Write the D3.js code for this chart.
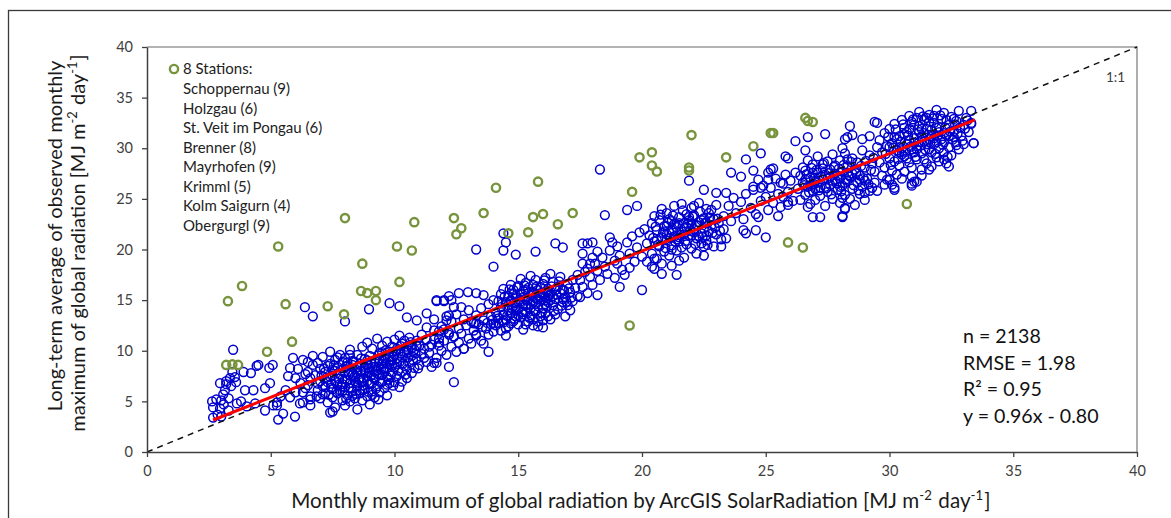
<!DOCTYPE html>
<html><head><meta charset="utf-8">
<script src="https://cdn.jsdelivr.net/npm/d3@7"></script>
<style>body{margin:0;background:#fff}svg{display:block}text{font-family:Lato,"Open Sans",sans-serif}</style>
</head><body><svg id="c" width="1171" height="518"></svg>
<script>
// ---------- data ----------
const xTicks=[0,5,10,15,20,25,30,35,40];
const yTicks=[0,5,10,15,20,25,30,35,40];
const legendTitle="8 Stations:";
const stations=["Schoppernau (9)","Holzgau (6)","St. Veit im Pongau (6)","Brenner (8)","Mayrhofen (9)","Krimml (5)","Kolm Saigurn (4)","Obergurgl (9)"];
const statsLines=["n = 2138","RMSE = 1.98","R\u00b2 = 0.95","y = 0.96x - 0.80"];
const fitLine=[[2.67,3.16],[33.45,32.8]];
const oneToOne=[[0,0],[40,40]];

const greenStations=[[3.27,14.9],[3.84,16.4],[3.2,8.6],[3.45,8.65],[3.68,8.6],[4.85,9.9],[5.3,20.3],[5.6,14.6],[5.86,10.9],[7.3,14.4],[8.0,23.1],[7.96,13.6],[8.7,18.6],[8.65,15.9],[8.9,15.7],[9.25,15.9],[9.25,15.0],[10.1,20.3],[10.7,19.9],[10.2,16.8],[10.8,22.7],[12.4,23.1],[12.7,22.1],[12.5,21.5],[13.6,23.6],[14.1,26.1],[14.6,21.6],[15.4,21.7],[15.6,23.2],[16.0,23.5],[15.8,26.7],[16.6,22.5],[17.2,23.6],[19.5,12.5],[19.6,25.7],[19.9,29.1],[20.4,29.6],[20.4,28.3],[20.6,27.7],[21.9,28.1],[21.9,27.8],[22.0,31.3],[23.4,29.1],[24.5,30.2],[25.2,31.5],[25.3,31.5],[25.9,20.7],[26.5,20.2],[26.6,33.0],[26.7,32.7],[26.9,32.6],[30.7,24.5]];

const blueLow=[[2.63,5.0],[2.67,4.4],[2.67,3.4],[2.85,3.7],[2.95,4.3],[3.0,5.1],[3.08,5.7],[3.15,6.1],[3.2,6.7],[2.95,6.8],[3.48,10.1],[3.35,7.3],[3.55,7.4],[3.9,7.9],[4.2,7.8],[4.43,8.5],[4.5,8.6],[3.96,6.1],[4.3,6.1],[3.63,4.8],[3.8,5.0],[4.03,4.5],[4.37,4.8],[4.77,4.1],[4.77,6.3],[4.97,6.8],[5.08,8.6],[4.94,8.3],[5.25,4.9],[5.3,3.2],[5.5,3.8],[5.98,3.5],[5.78,8.3],[5.9,9.3],[5.78,5.4],[6.18,4.8],[5.1,4.6],[5.25,4.6],[3.1,4.7],[3.3,5.3],[3.4,6.5],[3.3,4.1],[2.8,5.2],[3.0,3.5],[3.2,7.0],[3.45,7.9],[3.6,6.9],[5.4,5.5],[5.6,6.1],[5.7,7.5],[6.0,7.3],[6.3,4.9],[6.4,6.3],[6.5,7.9],[6.6,4.6],[6.7,8.6],[6.3,5.9],[6.4,7.7],[6.5,6.6],[6.5,8.9],[6.6,5.2],[6.6,7.3],[6.7,9.5],[6.1,8.2],[6.2,6.8],[6.0,5.9],[6.3,9.1],[6.6,5.5]];

const blueA=[[6.8,7.6],[6.9,6.1],[6.9,8.8],[7.0,5.3],[7.0,7.0],[7.1,9.4],[7.1,6.5],[7.2,7.9],[7.2,5.8],[7.3,8.5],[7.3,4.9],[7.3,6.9],[7.4,7.4],[7.4,9.9],[7.5,6.2],[7.5,8.1],[7.5,5.4],[7.6,7.0],[7.6,9.1],[7.6,4.4],[7.7,6.6],[7.7,8.4],[7.7,5.8],[7.8,7.7],[7.8,9.6],[7.8,6.1],[7.9,5.1],[7.9,7.2],[7.9,8.9],
[8.0,6.4],[8.0,7.9],[8.0,4.6],[8.0,9.3],[8.1,5.6],[8.1,7.1],[8.1,8.5],[8.2,6.8],[8.2,10.1],[8.2,5.0],[8.3,7.6],[8.3,9.0],[8.3,6.0],[8.4,8.2],[8.4,5.3],[8.4,7.0],[8.5,9.6],[8.5,6.5],[8.5,7.8],[8.5,4.2],[8.6,8.7],[8.6,5.8],[8.6,7.3],[8.7,10.4],[8.7,6.9],[8.7,5.1],[8.8,8.0],[8.8,9.2],[8.8,6.2],[8.9,7.5],[8.9,5.5],[8.9,10.8],[8.9,8.6],
[9.0,6.7],[9.0,9.5],[9.0,7.9],[9.0,4.7],[9.1,8.4],[9.1,6.0],[9.1,10.2],[9.2,7.2],[9.2,9.0],[9.2,5.4],[9.3,8.1],[9.3,6.5],[9.3,11.2],[9.4,9.8],[9.4,7.6],[9.4,5.9],[9.5,8.7],[9.5,10.5],[9.5,7.0],[9.6,6.3],[9.6,9.3],[9.6,8.0],[9.7,10.9],[9.7,7.4],[9.7,5.6],[9.8,8.6],[9.8,9.9],[9.8,6.8],[9.9,7.9],[9.9,10.4],[9.9,9.1],
[10.0,8.4],[10.0,11.1],[10.0,6.9],[10.0,9.6],[10.1,7.5],[10.1,10.2],[10.2,8.9],[10.2,11.5],[10.2,6.4],[10.3,9.4],[10.3,7.9],[10.3,10.7],[10.4,8.5],[10.4,11.0],[10.5,9.8],[10.5,7.3],[10.5,10.4],[10.6,8.8],[10.6,11.3],[10.7,9.5],[10.7,7.8],[10.8,10.1],[10.8,8.3],[10.9,11.0],[10.9,9.2],[11.0,10.5],[11.0,8.6],[11.1,9.7],[11.1,11.6],[11.2,10.2],[11.3,8.9],[11.3,11.1],[11.4,9.8],[11.5,10.6],[11.6,12.0],[11.7,9.3],[11.8,11.2],[11.9,10.0],
[7.2,6.4],[7.6,8.0],[8.0,7.2],[8.3,8.6],[8.6,6.1],[8.9,7.0],[9.2,8.4],[9.5,7.6],[9.8,9.4],[10.1,8.7],[8.4,7.5],[8.8,8.4],[9.1,6.8],[9.4,9.1],[7.9,6.7],[8.2,9.6],[9.7,8.3],[10.4,9.9],[7.4,8.7],[10.7,10.6]];

const blueAcore=[[7.25,7.35],[7.45,6.75],[7.55,8.55],[7.65,5.95],[7.85,6.45],[7.95,8.25],[8.05,5.25],[8.15,7.65],[8.25,6.25],[8.35,8.95],[8.45,5.75],[8.55,7.15],[8.65,9.25],[8.75,6.55],[8.85,7.85],[8.95,5.95],[9.05,8.75],[9.15,7.35],[9.25,6.25],[9.35,9.55],[9.45,6.85],[9.55,8.25],[9.65,10.05],[9.75,7.15],[9.85,8.95],[9.95,6.55],[10.05,9.95],[10.15,8.05],[10.25,10.45],[10.35,8.75],[10.45,7.65],[10.55,9.35],[10.65,10.85],[10.75,9.05],[10.85,9.75],[10.95,8.25],
[7.15,8.25],[7.35,5.65],[7.5,7.55],[7.7,9.35],[7.9,6.05],[8.1,8.85],[8.3,5.55],[8.5,8.35],[8.7,6.15],[8.9,9.05],[9.1,5.65],[9.3,7.75],[9.5,9.85],[9.7,6.65],[9.9,8.55],[10.1,9.25],[10.3,6.95],[10.5,8.15],[10.7,10.25],[10.9,10.45],
[8.15,6.35],[8.45,6.85],[8.75,7.25],[9.05,7.55],[9.35,8.45],[9.65,8.75],[9.95,9.45],[8.35,7.35],[8.65,8.05],[8.95,8.25],[9.25,7.95],[9.55,9.05],[7.75,7.25],[8.05,8.45],[9.85,7.55],[10.25,9.75],[10.55,10.05],[7.45,6.35],[8.25,7.95],[9.45,8.15],
[6.9,6.75],[7.0,8.2],[7.1,5.7],[6.85,5.5],[7.05,7.55],[11.2,9.3],[11.4,10.4],[11.6,11.1],[11.8,10.8],[12.0,12.1],[11.5,8.4],[11.3,12.3]];

const blueAB=[[11.6,13.1],[11.8,10.5],[11.9,12.4],[12.0,11.0],[12.1,9.6],[12.1,13.4],[12.2,11.8],[12.3,10.4],[12.3,12.9],[12.4,11.4],[12.5,9.9],[12.5,13.6],[12.6,12.2],[12.6,10.8],[12.7,11.7],[12.8,13.1],[12.8,10.2],[12.9,12.5],[13.0,11.2],[13.0,14.0],[13.1,12.9],[13.1,10.7],[13.2,12.0],[13.3,13.5],[13.3,11.5],[13.4,12.6],[13.5,14.2],[13.5,11.0],[13.6,13.0],[13.7,12.2],[13.8,14.6],[13.8,11.6],[13.9,13.4],[13.9,12.6],[14.0,15.0],[14.0,11.9],
[11.7,15.0],[12.0,15.0],[12.3,15.0],[12.6,15.7],[12.97,15.8],[13.3,15.7],[13.6,15.5],[12.4,14.3],[12.7,14.3],[12.1,13.0],[12.2,13.5],[11.8,11.9],[12.2,11.6],[12.4,11.4],[14.5,11.5],[14.5,12.2],[14.7,12.7],[14.0,12.7],[13.3,12.7],[13.2,12.7],[13.3,11.6],[13.6,10.7],[13.8,9.9],[12.8,10.2],[12.2,8.4],[12.4,6.9],[11.6,8.8],[11.7,8.8]];

const blueB=[[14.1,13.8],[14.1,12.5],[14.2,14.9],[14.2,13.2],[14.3,15.6],[14.3,12.0],[14.3,14.3],[14.4,13.6],[14.4,16.1],[14.4,12.8],[14.5,14.8],[14.5,13.1],[14.6,15.4],[14.6,14.0],[14.6,12.4],[14.7,16.5],[14.7,13.7],[14.7,15.0],[14.8,14.4],[14.8,12.9],[14.8,16.0],[14.9,13.4],[14.9,15.3],[14.9,14.7],
[15.0,12.6],[15.0,16.4],[15.0,14.1],[15.1,15.6],[15.1,13.3],[15.1,17.1],[15.2,14.6],[15.2,12.1],[15.2,15.9],[15.3,13.8],[15.3,16.7],[15.3,15.1],[15.4,14.3],[15.4,12.9],[15.4,16.2],[15.5,15.5],[15.5,13.5],[15.5,17.4],[15.6,14.8],[15.6,16.5],[15.6,12.5],[15.7,15.2],[15.7,13.9],[15.7,17.0],[15.8,14.4],[15.8,16.0],[15.8,12.9],[15.9,15.7],[15.9,13.4],[15.9,14.9],
[16.0,16.6],[16.0,14.2],[16.0,12.3],[16.1,15.3],[16.1,17.2],[16.1,13.7],[16.2,14.8],[16.2,16.1],[16.3,13.1],[16.3,15.6],[16.3,17.6],[16.4,14.5],[16.4,16.8],[16.5,15.1],[16.5,13.6],[16.6,16.3],[16.6,14.1],[16.7,15.7],[16.7,17.3],[16.8,14.8],[16.8,16.0],[16.9,15.3],[16.9,13.4],[17.0,16.6],[17.0,14.5],[17.1,15.8],[17.2,17.0],[17.2,14.9],[17.3,16.2],[17.4,15.4],
[14.6,14.5],[14.9,14.0],[15.1,14.9],[15.3,14.5],[15.5,14.2],[15.7,14.6],[15.9,15.3],[16.1,14.6],[16.3,15.0],[15.2,13.6],[15.6,15.8],[16.0,15.6],[14.8,15.6],[15.4,15.7],[16.2,15.9]];

const blueBcore=[[14.35,14.65],[14.45,15.35],[14.55,13.45],[14.65,16.05],[14.75,14.25],[14.85,13.15],[14.95,16.25],[15.05,15.05],[15.15,13.85],[15.25,16.45],[15.35,14.95],[15.45,13.25],[15.55,15.85],[15.65,14.05],[15.75,16.35],[15.85,15.45],[15.95,13.75],[16.05,16.95],[16.15,14.35],[16.25,15.45],[16.35,16.35],[16.45,13.95],[16.55,15.55],[16.65,16.85],[16.75,14.45],[16.85,15.95],[16.95,14.85],[17.05,16.15],[17.15,15.25],[14.4,13.0],[14.7,14.9],[15.0,13.5],[15.3,16.0],[15.6,13.1],[15.9,16.3],[16.2,13.4],[16.5,16.0],[16.8,15.1],[14.2,12.7],[15.5,14.6],[16.1,15.0],[16.4,15.4],[15.8,15.1],[15.2,15.3],[14.9,14.3],
[13.95,13.05],[13.75,12.75],[13.55,12.35],[14.15,13.45]];

const blueBC=[[17.5,17.0],[17.6,16.3],[17.8,18.1],[17.9,17.3],[18.0,16.5],[18.1,18.6],[18.2,17.9],[18.4,19.2],[18.5,18.3],[18.6,17.6],[18.7,19.9],[18.9,18.9],[19.0,20.3],[19.1,19.4],[19.2,18.0],[19.4,20.7],[19.5,19.6],[19.6,21.3],[19.7,18.8],[19.8,20.2],[19.9,21.7],[20.0,19.3],[20.1,22.0],[20.2,20.6],
[13.3,20.0],[14.0,18.3],[14.4,21.6],[14.5,20.7],[14.4,19.9],[14.9,19.5],[15.7,19.8],[16.5,20.6],[16.8,20.2],[17.6,20.6],[17.8,20.6],[18.0,20.7],[17.6,19.6],[18.0,19.2],[18.2,19.8],[17.6,18.6],[17.9,18.6],[17.7,17.8],[17.4,17.5],[18.5,23.4],[18.7,21.2],[18.8,20.7],[19.4,23.9],[19.8,24.3],[19.0,18.6],[18.9,17.2],[19.1,16.3],[19.3,17.5],[19.5,18.2],[20.0,16.0],[18.3,17.0],[18.2,15.5],[17.5,15.3],[17.8,15.7],[17.1,14.0],[16.0,13.0],[15.8,12.4],[15.3,12.6],[18.3,27.9]];

const blueC=[[20.3,21.4],[20.4,19.6],[20.4,22.6],[20.5,20.8],[20.5,23.3],[20.6,19.1],[20.6,21.9],[20.7,20.3],[20.7,22.9],[20.8,21.2],[20.8,24.0],[20.9,19.8],[20.9,22.3],[21.0,20.9],[21.0,23.6],[21.1,21.7],[21.1,19.4],[21.2,22.8],[21.2,20.4],[21.3,24.3],[21.3,21.3],[21.4,22.2],[21.4,19.9],[21.5,23.2],[21.5,20.8],[21.6,21.8],[21.6,24.5],[21.7,22.6],[21.7,19.2],[21.8,20.5],[21.8,23.5],[21.9,21.4],[21.9,22.9],[22.0,24.1],[22.0,20.1],[22.1,22.0],[22.1,23.4],[22.2,21.1],[22.2,19.6],[22.3,22.7],[22.3,24.6],[22.4,21.6],[22.4,20.6],[22.5,23.1],[22.5,22.1],[22.6,24.0],[22.6,20.9],[22.7,21.8],[22.7,23.6],[22.8,22.4],[22.9,20.3],[22.9,23.0],[23.0,21.5],[23.0,24.4],[23.1,22.6],[23.2,21.0],[23.3,23.3],[23.3,22.0],
[20.2,18.8],[20.5,18.1],[20.8,18.6],[21.2,18.4],[21.5,18.9],[20.8,17.6],[21.4,17.5],[20.4,18.3],[20.5,19.1],[21.9,26.8],[22.5,25.9],[23.0,25.6],[23.4,25.6],[23.2,20.3],[23.4,21.1],[22.5,19.4],
[21.0,22.3],[21.4,21.0],[21.7,21.5],[22.0,22.5],[22.3,21.3],[21.2,21.9],[21.8,22.2],[22.6,22.6],[21.5,22.6],[22.1,21.7]];

const blueCcore=[[20.45,21.15],[20.55,22.25],[20.65,20.45],[20.75,23.45],[20.85,21.65],[20.95,20.15],[21.05,22.65],[21.15,21.15],[21.25,23.35],[21.35,20.75],[21.45,22.45],[21.55,21.45],[21.65,23.85],[21.75,20.85],[21.85,22.55],[21.95,21.85],[22.05,23.25],[22.15,20.55],[22.25,22.35],[22.35,23.75],[22.45,21.25],[22.55,22.65],[22.65,20.45],[22.75,23.15],[22.85,21.65],[22.95,22.15],[23.05,23.05],[23.15,21.85],[20.6,20.9],[21.0,21.5],[21.3,22.5],[21.6,20.2],[21.9,23.2],[22.2,22.4],[22.5,20.3],[22.8,23.9],[21.1,23.0],[21.5,21.2],[22.0,21.4],[22.4,22.9],[20.9,21.8],[21.7,22.1],[22.6,21.4],[21.2,20.0],[22.1,24.3]];

const blueCD=[[23.5,24.3],[23.6,22.8],[23.7,25.1],[23.8,23.6],[24.0,24.7],[24.1,23.0],[24.2,25.5],[24.4,24.1],[24.5,25.9],[24.6,23.5],[24.8,24.8],[24.9,26.3],[25.0,25.2],[25.1,23.9],[25.2,26.1],[25.3,24.6],[25.4,27.0],[25.5,25.5],[25.6,24.2],[25.7,26.5],[25.8,27.4],[25.9,25.7],[26.0,26.8],[26.1,24.8],[26.2,27.6],
[23.6,27.6],[24.0,27.2],[24.2,28.9],[24.5,27.8],[24.8,29.5],[24.7,26.9],[25.1,26.9],[25.1,27.6],[25.2,27.9],[25.3,28.0],[24.5,26.2],[24.8,26.1],[25.8,29.2],[25.9,29.0],[26.2,30.7],[26.7,31.1],[26.6,29.8],[27.4,31.4],[25.5,23.3],[25.0,21.2],[24.6,21.9],[24.7,23.2],[24.1,21.9],[24.2,21.6],[25.6,26.6],[25.7,25.2],[25.9,24.7],[25.9,24.4],[26.9,23.2],[27.2,23.2],[26.7,24.2],[28.1,23.3],[28.2,24.0],[28.3,31.1],[28.5,31.3],[28.1,30.0]];

const blueD=[[26.3,26.0],[26.4,27.3],[26.4,24.9],[26.5,28.1],[26.5,26.6],[26.6,25.4],[26.6,27.8],[26.7,26.2],[26.7,28.8],[26.8,24.5],[26.8,27.1],[26.9,25.8],[26.9,28.4],[27.0,26.7],[27.0,24.9],[27.1,27.6],[27.1,29.2],[27.2,26.1],[27.2,25.3],[27.3,28.0],[27.3,26.9],[27.4,24.3],[27.4,27.4],[27.5,25.7],[27.5,28.7],[27.6,26.4],[27.6,27.9],[27.7,25.0],[27.7,29.4],[27.8,26.9],[27.8,28.3],[27.9,25.9],[27.9,27.3],[28.0,24.6],[28.0,28.8],[28.1,26.3],[28.1,27.7],[28.2,25.4],[28.2,29.5],[28.3,26.8],[28.3,28.2],[28.4,25.0],[28.4,27.2],[28.5,29.0],[28.5,26.0],[28.6,27.9],[28.6,24.4],[28.7,26.6],[28.7,28.6],[28.8,25.5],[28.8,27.3],[28.9,29.8],[28.9,26.2],[29.0,28.1],[29.0,24.9],[29.1,27.0],[29.2,29.3],[29.2,25.8],[29.3,28.5],[29.4,26.6],[29.4,27.7],[29.5,30.1],
[26.8,26.3],[27.1,26.6],[27.4,26.2],[27.7,26.8],[28.0,27.0],[28.3,27.6],[27.0,27.1],[27.6,27.2],[28.2,26.6],[26.6,26.9],
[28.4,32.2],[28.9,30.9],[29.2,31.2],[28.2,30.9],[29.4,32.6],[29.5,32.5],[28.1,23.2],[28.2,24.1],[29.3,26.1],[29.0,25.6]];

const blueDcore=[[26.55,26.35],[26.65,27.45],[26.75,25.65],[26.85,28.05],[26.95,26.45],[27.05,27.85],[27.15,25.85],[27.25,27.25],[27.35,28.55],[27.45,26.05],[27.55,27.55],[27.65,25.45],[27.75,28.15],[27.85,26.55],[27.95,27.95],[28.05,25.75],[28.15,28.35],[28.25,26.95],[28.35,27.35],[28.45,28.65],[28.55,26.35],[28.65,27.55],[28.75,25.85],[28.85,28.25],[28.95,27.05],[29.05,28.75],[29.15,26.45],[29.25,27.85],[29.35,29.05],[27.0,26.0],[27.5,27.0],[28.0,26.2],[28.5,27.5],[29.0,26.8],[27.3,28.4],[27.8,27.5],[28.3,28.9],[28.8,26.9],[26.9,27.6],[28.1,25.1]];

const blueE=[[29.6,28.6],[29.6,30.8],[29.7,27.3],[29.7,29.6],[29.8,31.5],[29.8,28.1],[29.9,30.2],[29.9,26.9],[30.0,29.0],[30.0,31.9],[30.1,27.8],[30.1,30.5],[30.2,28.7],[30.2,32.4],[30.3,29.8],[30.3,27.4],[30.4,31.2],[30.4,28.3],[30.5,30.0],[30.5,32.8],[30.6,29.2],[30.6,27.7],[30.7,31.6],[30.7,30.4],[30.8,28.6],[30.8,33.2],[30.9,29.9],[30.9,27.2],[31.0,31.0],[31.0,32.3],[31.1,28.9],[31.1,30.2],[31.2,33.6],[31.2,31.6],[31.3,29.5],[31.3,27.9],[31.4,32.8],[31.4,30.7],[31.5,28.5],[31.5,31.9],[31.6,33.3],[31.6,29.9],[31.7,31.2],[31.7,28.2],[31.8,32.5],[31.8,30.4],[31.9,29.1],[31.9,33.8],[32.0,31.6],[32.0,28.7],[32.1,30.9],[32.1,32.9],[32.2,29.6],[32.2,33.5],[32.3,31.3],[32.3,28.5],[32.4,32.3],[32.4,30.1],[32.5,33.1],[32.5,29.3],[32.6,31.7],[32.7,30.6],[32.7,32.7],[32.8,29.9],[32.8,33.7],[32.9,31.2],[33.0,32.3],[33.0,30.4],[33.1,33.0],[33.2,31.6],[33.3,32.4],[33.4,30.5],
[30.2,31.1],[30.5,29.4],[30.8,31.9],[31.0,29.6],[31.2,30.6],[31.4,31.5],[31.6,32.6],[31.8,31.0],[32.0,32.1],[32.2,30.6],[30.6,32.0],[31.1,33.0],[31.5,30.4],[31.9,32.0],[32.4,31.2],[30.4,30.1],[31.3,31.9],[32.6,32.9],[30.9,32.6],[31.7,29.6],
[29.8,26.4],[30.0,26.9],[30.2,26.1],[30.5,27.0],[30.9,26.5],[31.1,26.7],[31.3,27.3],[29.5,25.8],[31.6,27.9],[32.2,28.9],[32.4,28.2],[32.7,30.3],[31.0,26.7],[30.9,26.3],[30.2,25.9],[30.1,26.4],[30.0,26.9],[33.3,33.7],[33.3,32.5],[33.4,30.5]];

const blueEcore=[[29.85,29.45],[29.95,31.15],[30.05,28.35],[30.15,30.05],[30.25,31.85],[30.35,28.95],[30.45,30.65],[30.55,32.35],[30.65,29.65],[30.75,31.25],[30.85,30.15],[30.95,32.85],[31.05,29.15],[31.15,31.85],[31.25,30.25],[31.35,33.15],[31.45,29.85],[31.55,31.35],[31.65,30.55],[31.75,32.95],[31.85,29.45],[31.95,31.25],[32.05,33.25],[32.15,30.35],[32.25,32.05],[32.35,29.15],[32.45,31.65],[32.55,30.85],[32.65,32.35],[32.75,31.45],[32.85,32.05],[32.95,30.75],[33.05,31.95],[33.15,32.75],[30.3,30.9],[30.7,29.0],[31.0,30.5],[31.3,31.1],[31.6,30.9],[31.9,30.6],[32.2,31.5],[31.2,32.2],[31.8,33.2],[30.8,30.8],[31.5,33.0],[32.0,30.0],[31.1,29.9],[30.6,31.4],[31.7,31.8],[32.3,32.8],[30.0,30.1],[30.4,29.6],[32.6,31.1],[31.4,28.9],[30.9,28.1]];

const blueOut=[[6.38,14.3],[6.7,13.4],[8.0,12.9],[8.97,14.1],[9.8,14.7],[10.2,14.4],[10.5,13.3],[10.9,13.0],[11.3,13.7],[11.7,14.9],[12.0,14.9],[12.2,15.4],[7.4,3.9],[9.35,5.2],[7.5,4.0]];

// ---------- drawing ----------
const svg=d3.select("#c");
const x=d3.scaleLinear().domain([0,40]).range([147,1137]);
const y=d3.scaleLinear().domain([0,40]).range([452,47]);

svg.append("rect").attr("x",8.5).attr("y",10.5).attr("width",1200).attr("height",600)
  .attr("fill","none").attr("stroke","#3a3a3a").attr("stroke-width",1.3);

svg.append("path").attr("d",`M${x(0)},${y(40)}H${x(40)}V${y(0)}`)
  .attr("fill","none").attr("stroke","#9a9a9a").attr("stroke-width",1.6);

const blue=[].concat(blueLow,blueA,blueAcore,blueAB,blueB,blueBcore,blueBC,blueC,blueCcore,blueCD,blueD,blueDcore,blueE,blueEcore,blueOut);
svg.append("g").selectAll("circle").data(blue).join("circle")
  .attr("cx",d=>x(d[0])).attr("cy",d=>y(d[1])).attr("r",4.4)
  .attr("fill","none").attr("stroke","#0000cc").attr("stroke-width",1.5);

svg.append("g").selectAll("circle").data(greenStations).join("circle")
  .attr("cx",d=>x(d[0])).attr("cy",d=>y(d[1])).attr("r",4.1)
  .attr("fill","none").attr("stroke","#77933c").attr("stroke-width",2.4);

const line=d3.line().x(d=>x(d[0])).y(d=>y(d[1]));
svg.append("path").attr("d",line(fitLine)).attr("stroke","#ff0000").attr("stroke-width",3).attr("fill","none");
svg.append("path").attr("d",line(oneToOne)).attr("stroke","#111").attr("stroke-width",1.5)
  .attr("stroke-dasharray","6,5").attr("fill","none");

const ax=svg.append("g").attr("transform",`translate(0,${y(0)})`)
  .call(d3.axisBottom(x).tickValues(xTicks).tickSize(5).tickSizeOuter(0).tickPadding(9));
const ay=svg.append("g").attr("transform",`translate(${x(0)},0)`)
  .call(d3.axisLeft(y).tickValues(yTicks).tickSize(5).tickSizeOuter(0).tickPadding(9));
[ax,ay].forEach(g=>{
  g.select(".domain").attr("stroke","#404040").attr("stroke-width",1.5);
  g.selectAll(".tick line").attr("stroke","#404040").attr("stroke-width",1.3);
  g.selectAll(".tick text").attr("fill","#404040").style("font-size","14.5px").style("font-family","Lato");
});

function rich(t,parts,size){
  parts.forEach(p=>{
    if(typeof p==="string"){t.append("tspan").text(p);}
    else{
      t.append("tspan").attr("dy",-size*0.38).style("font-size",(size*0.64)+"px").text(p.sup);
      t.append("tspan").attr("dy",size*0.38).text("\u200a");
    }
  });
}
const xt=svg.append("text").attr("x",641).attr("y",508).attr("text-anchor","middle")
  .style("font-size","20.6px").attr("fill","#1a1a1a");
rich(xt,["Monthly maximum of global radiation by ArcGIS SolarRadiation [MJ m",{sup:"-2"}," day",{sup:"-1"},"]"],20.6);

svg.append("text").attr("transform","translate(62,236) rotate(-90)").attr("text-anchor","middle")
  .style("font-size","20px").attr("fill","#1a1a1a").text("Long-term average of observed monthly");
const yt2=svg.append("text").attr("transform","translate(85,243) rotate(-90)").attr("text-anchor","middle")
  .style("font-size","20px").attr("fill","#1a1a1a");
rich(yt2,["maximum of global radiation [MJ m",{sup:"-2"}," day",{sup:"-1"},"]"],20);

svg.append("circle").attr("cx",174).attr("cy",69).attr("r",4.1).attr("fill","none")
  .attr("stroke","#77933c").attr("stroke-width",2.4);
svg.append("text").attr("x",183).attr("y",74).style("font-size","15px").attr("fill","#222").text(legendTitle);
svg.append("g").selectAll("text").data(stations).join("text")
  .attr("x",183).attr("y",(d,i)=>94+i*19.5).style("font-size","15px").attr("fill","#222").text(d=>d);

svg.append("g").selectAll("text").data(statsLines).join("text")
  .attr("x",963).attr("y",(d,i)=>343+i*26.7).style("font-size","19.6px").attr("fill","#111").text(d=>d);

svg.append("text").attr("x",1106).attr("y",82).style("font-size","13.5px").attr("fill","#404040").text("1:1");
</script></body></html>
